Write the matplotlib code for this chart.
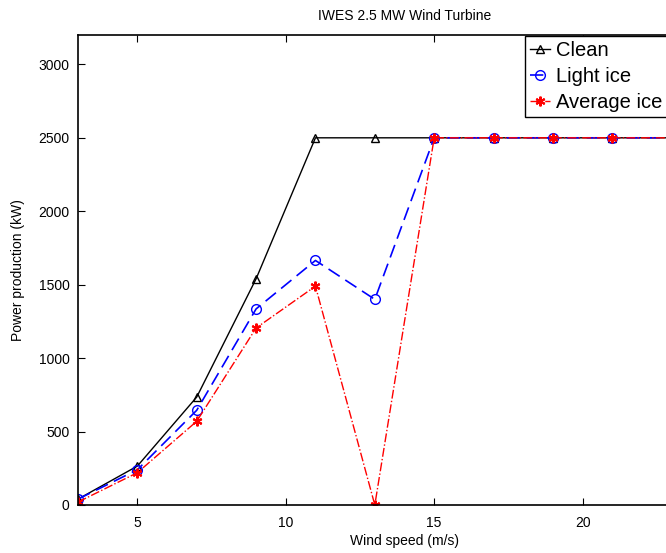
import matplotlib.pyplot as plt

plt.rcParams['font.family'] = ['Liberation Sans', 'DejaVu Sans']

wind = [3, 5, 7, 9, 11, 13, 15, 17, 19, 21, 23, 25]
clean = [40, 265, 735, 1540, 2500, 2500, 2500, 2500, 2500, 2500, 2500, 2500]
light_ice = [40, 240, 645, 1335, 1665, 1400, 2500, 2500, 2500, 2500, 2500, 2500]
avg_ice = [20, 220, 570, 1205, 1490, 0, 2500, 2500, 2500, 2500, 2500, 2500]

fig = plt.figure(figsize=(6.66, 5.53), dpi=100)
# axes runs past the right edge of the figure (cropped like the original)
ax = fig.add_axes([78 / 666, 1 - 505 / 553, 653 / 666, 470 / 553])

ax.plot(wind, clean, color='black', lw=1, marker='^', mfc='none', ms=6, label='Clean')
ax.plot(wind, light_ice, color='blue', lw=1.2, ls=(0, (8, 4)), marker='o', mfc='none', ms=7,
        label='Light ice')
ax.plot(wind, avg_ice, color='red', lw=1, ls='-.', marker=(6, 2, 0), ms=7, mew=1.5,
        label='Average ice')

ax.set_xlim(3, 25)
ax.set_ylim(0, 3200)
ax.set_xticks([5, 10, 15, 20, 25], ['5', '10', '15', '20', ''])
ax.set_yticks([0, 500, 1000, 1500, 2000, 2500, 3000])
ax.tick_params(direction='in', top=True, right=True, labelsize=10, length=5, pad=6)
ax.tick_params(axis='x', pad=8)
for s in ax.spines.values():
    s.set_linewidth(1.2)

ax.set_xlabel('Wind speed (m/s)', fontsize=10, labelpad=3)
ax.set_ylabel('Power production (kW)', fontsize=10, labelpad=10)
ax.set_title('IWES 2.5 MW Wind Turbine', fontsize=10, pad=11)

fig.legend(loc='upper left', bbox_to_anchor=(525 / 666, 1 - 36 / 553), fontsize=14.5,
           frameon=True, fancybox=False, edgecolor='black', framealpha=1,
           handlelength=1.0, handletextpad=0.3, borderpad=0.25, labelspacing=0.35,
           borderaxespad=0)

fig.savefig('out.png', dpi=100)
